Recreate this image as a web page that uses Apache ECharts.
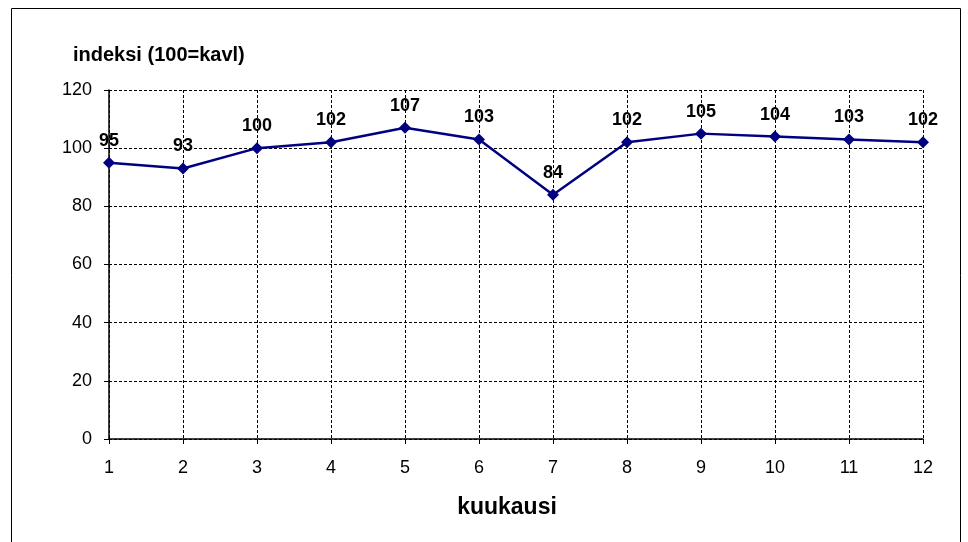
<!DOCTYPE html>
<html>
<head>
<meta charset="utf-8">
<script src="https://cdn.jsdelivr.net/npm/echarts@6/dist/echarts.min.js"></script>
<style>
  html, body { margin: 0; padding: 0; background: #fff; }
  #main { width: 968px; height: 542px; }
</style>
</head>
<body>
<div id="main"></div>
<script>
// kuukaudet ja indeksi
var months = ['1', '2', '3', '4', '5', '6', '7', '8', '9', '10', '11', '12'];
var indexValues = [95, 93, 100, 102, 107, 103, 84, 102, 105, 104, 103, 102];

var myChart = echarts.init(document.getElementById('main'));

var option = {
    animation: false,
    backgroundColor: '#fff',
    graphic: [{
        type: 'rect',
        shape: { x: 11.5, y: 8.5, width: 949, height: 540 },
        style: { fill: 'none', stroke: '#000', lineWidth: 1 }
    }, {
        type: 'text',
        x: 73, y: 55,
        style: { text: 'indeksi (100=kavl)', font: 'bold 20px Arial', fill: '#000', verticalAlign: 'middle' }
    }, {
        type: 'text',
        x: 507, y: 508,
        style: { text: 'kuukausi', font: 'bold 23px Arial', fill: '#000', align: 'center', verticalAlign: 'middle' }
    }],
    grid: { left: 109, right: 45, top: 90, bottom: 103 },
    xAxis: {
        type: 'category',
        data: months,
        boundaryGap: false,
        axisLine: { lineStyle: { color: '#000', width: 1.5 } },
        axisTick: { show: true, alignWithLabel: true, length: 5, lineStyle: { color: '#000' } },
        axisLabel: { fontFamily: 'Arial', fontSize: 18, color: '#000', margin: 20 },
        splitLine: { show: true, lineStyle: { color: '#000', type: [3, 2], width: 1 } }
    },
    yAxis: {
        type: 'value',
        min: 0,
        max: 120,
        interval: 20,
        axisLine: { show: true, lineStyle: { color: '#000', width: 1.5 } },
        axisTick: { show: true, length: 5, lineStyle: { color: '#000' } },
        axisLabel: { fontFamily: 'Arial', fontSize: 18, color: '#000', margin: 17 },
        splitLine: { show: true, lineStyle: { color: '#000', type: [3, 2], width: 1 } }
    },
    series: [{
        type: 'line',
        data: indexValues,
        symbol: 'diamond',
        symbolSize: 12,
        lineStyle: { color: '#000080', width: 2.5 },
        itemStyle: { color: '#000080' },
        label: {
            show: true,
            position: 'top',
            distance: 7,
            fontFamily: 'Arial',
            fontWeight: 'bold',
            fontSize: 18,
            color: '#000'
        }
    }]
};

myChart.setOption(option);
</script>
</body>
</html>
